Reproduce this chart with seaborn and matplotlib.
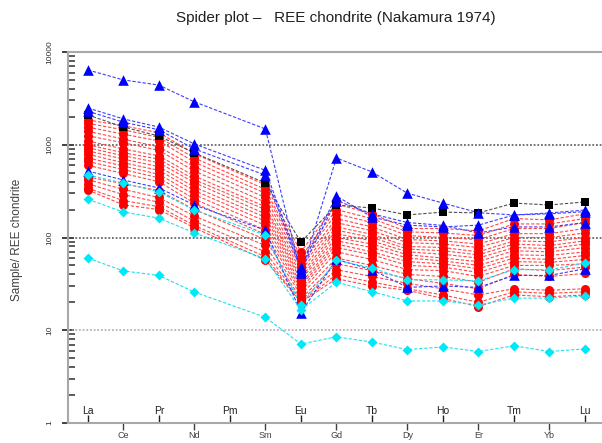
import matplotlib
matplotlib.use("Agg")
import matplotlib.pyplot as plt
import pandas as pd
import seaborn as sns
from matplotlib.ticker import LogLocator, NullFormatter

elements = ["La", "Ce", "Pr", "Nd", "Pm", "Sm", "Eu", "Gd", "Tb", "Dy", "Ho", "Er", "Tm", "Yb", "Lu"]
measured = ["La", "Ce", "Pr", "Nd", "Sm", "Eu", "Gd", "Tb", "Dy", "Ho", "Er", "Tm", "Yb", "Lu"]

red_samples = [
    [1850, 1600, 1350, 800, 370, 70, 230, 180, 125, 125, 118, 160, 155, 180],
    [1700, 1450, 1200, 720, 330, 62, 200, 160, 115, 112, 105, 140, 140, 160],
    [1550, 1300, 1100, 650, 300, 58, 180, 145, 105, 100, 95, 125, 125, 145],
    [1400, 1150, 950, 580, 270, 52, 160, 130, 95, 92, 85, 110, 110, 125],
    [1250, 1050, 870, 520, 240, 48, 145, 118, 88, 85, 78, 100, 100, 112],
    [1100, 900, 760, 460, 215, 44, 130, 108, 80, 78, 70, 92, 90, 100],
    [1000, 820, 700, 420, 200, 40, 120, 100, 75, 72, 65, 85, 82, 92],
    [930, 760, 640, 390, 180, 37, 110, 92, 70, 66, 60, 78, 76, 85],
    [860, 700, 580, 350, 165, 35, 100, 85, 65, 60, 55, 72, 70, 78],
    [790, 640, 530, 320, 150, 32, 92, 78, 60, 56, 50, 65, 64, 70],
    [720, 590, 480, 290, 135, 30, 85, 70, 55, 52, 46, 60, 58, 64],
    [660, 540, 440, 260, 120, 28, 78, 65, 50, 48, 42, 55, 54, 58],
    [600, 490, 400, 235, 108, 26, 70, 58, 45, 44, 38, 50, 50, 52],
    [450, 380, 320, 200, 95, 24, 60, 50, 40, 38, 33, 46, 44, 48],
    [420, 330, 270, 170, 82, 22, 52, 44, 36, 32, 28, 40, 38, 41],
    [380, 290, 240, 150, 70, 21, 45, 38, 32, 28, 24, 28, 27, 28],
    [340, 250, 215, 135, 62, 20, 40, 33, 28, 24, 20, 26, 25, 26],
    [325, 225, 200, 127, 57, 20, 36, 30, 27, 22, 18, 24, 23, 24],
]
blue_samples = [
    [6400, 5000, 4400, 2900, 1480, 41, 720, 510, 300, 235, 185, 175, 180, 190],
    [2490, 1900, 1550, 1020, 530, 48, 280, 166, 136, 130, 136, 175, 184, 198],
    [2300, 1750, 1450, 900, 470, 44, 250, 180, 145, 135, 112, 130, 130, 145],
    [520, 417, 342, 224, 120, 15.5, 58, 45, 29, 30, 29, 39, 39, 46],
]
black_samples = [
    [2094, 1553, 1242, 815, 387, 89, 224, 208, 175, 188, 184, 235, 224, 242],
]
cyan_samples = [
    [472, 387, 309, 198, 106, 18.7, 57, 47, 35, 35, 34, 45, 45, 53],
    [258, 188, 162, 112, 59, 16.5, 33, 26, 20.7, 20.7, 18.7, 22.2, 22.2, 23.4],
    [60, 43.6, 39, 25.8, 13.8, 7.1, 8.5, 7.45, 6.2, 6.6, 5.9, 6.8, 5.9, 6.3],
]

groups = {"red": red_samples, "black": black_samples, "blue": blue_samples, "cyan": cyan_samples}
styles = {
    "red": dict(line="#ff4848", mark="#ff0000", marker="o", s=42),
    "black": dict(line="#505050", mark="#000000", marker="s", s=40),
    "blue": dict(line="#3c3cff", mark="#0000ff", marker="^", s=58),
    "cyan": dict(line="#20e0f0", mark="#00e8f8", marker="D", s=26),
}

rows = []
for g, samples in groups.items():
    for k, vals in enumerate(samples):
        for el, v in zip(measured, vals):
            rows.append({"group": g, "sample": f"{g}{k}", "pos": elements.index(el), "value": v})
df = pd.DataFrame(rows)

sns.set_style("white")
plt.rcParams["font.family"] = ["Liberation Sans", "DejaVu Sans"]

fig = plt.figure(figsize=(6.02, 4.43), dpi=100)
ax = fig.add_axes([68 / 602, 20 / 443, 534 / 602, 371 / 443])

for g in groups:
    sub = df[df["group"] == g]
    sns.lineplot(data=sub, x="pos", y="value", units="sample", estimator=None,
                 color=styles[g]["line"], lw=0.8, linestyle=(0, (3, 1.6)), ax=ax, legend=False)
for g in groups:
    sub = df[df["group"] == g]
    sns.scatterplot(data=sub, x="pos", y="value", marker=styles[g]["marker"], s=styles[g]["s"],
                    color=styles[g]["mark"], linewidth=0, ax=ax, legend=False, zorder=3)

ax.set_yscale("log")
ax.set_ylim(1, 10000)
ax.set_xlim(-0.56, 14.48)

for v, c in [(10, "#a8a8a8"), (100, "#505050"), (1000, "#505050")]:
    ax.axhline(v, color=c, lw=1.1, linestyle=(0, (1.2, 1.2)), zorder=1)

for side in ["left", "bottom", "top"]:
    ax.spines[side].set_color("#a8a8a8")
    ax.spines[side].set_linewidth(1.5)
ax.spines["right"].set_visible(False)

ax.set_yticks([1, 10, 100, 1000, 10000])
ax.set_yticklabels(["1", "10", "100", "1000", "10000"], rotation=90, va="center")
ax.yaxis.set_minor_locator(LogLocator(base=10, subs=range(2, 10)))
ax.yaxis.set_minor_formatter(NullFormatter())
ax.tick_params(axis="y", which="major", direction="inout", length=9, width=1.4,
               color="#404040", labelsize=6, pad=6, labelcolor="#303030", left=True)
ax.tick_params(axis="y", which="minor", direction="in", length=5, width=1.2,
               color="#404040", left=True)

odd = [i for i in range(len(elements)) if i % 2 == 1]
even = [i for i in range(len(elements)) if i % 2 == 0]
ax.set_xticks(odd)
ax.set_xticklabels([elements[i] for i in odd])
ax.set_xticks(even, minor=True)
ax.set_xticklabels([elements[i] for i in even], minor=True)
ax.tick_params(axis="x", which="major", direction="out", length=5, width=1,
               color="#404040", labelsize=6.5, pad=0.5, labelcolor="#404040", bottom=True)
ax.tick_params(axis="x", which="minor", direction="in", length=6, width=1,
               color="#202020", labelsize=7.5, pad=-12, labelcolor="#202020", bottom=True)

ax.set_xlabel("")
ax.set_ylabel("")
fig.text(17 / 602, 1 - 240 / 443, "Sample/ REE chondrite", rotation=90,
         ha="center", va="center", fontsize=8.5, color="#404040")
fig.text(336 / 602, 1 - 18 / 443, "Spider plot \u2013   REE chondrite (Nakamura 1974)",
         ha="center", va="center", fontsize=11, color="#202020")

fig.savefig("out.png", dpi=100)
plt.close(fig)
